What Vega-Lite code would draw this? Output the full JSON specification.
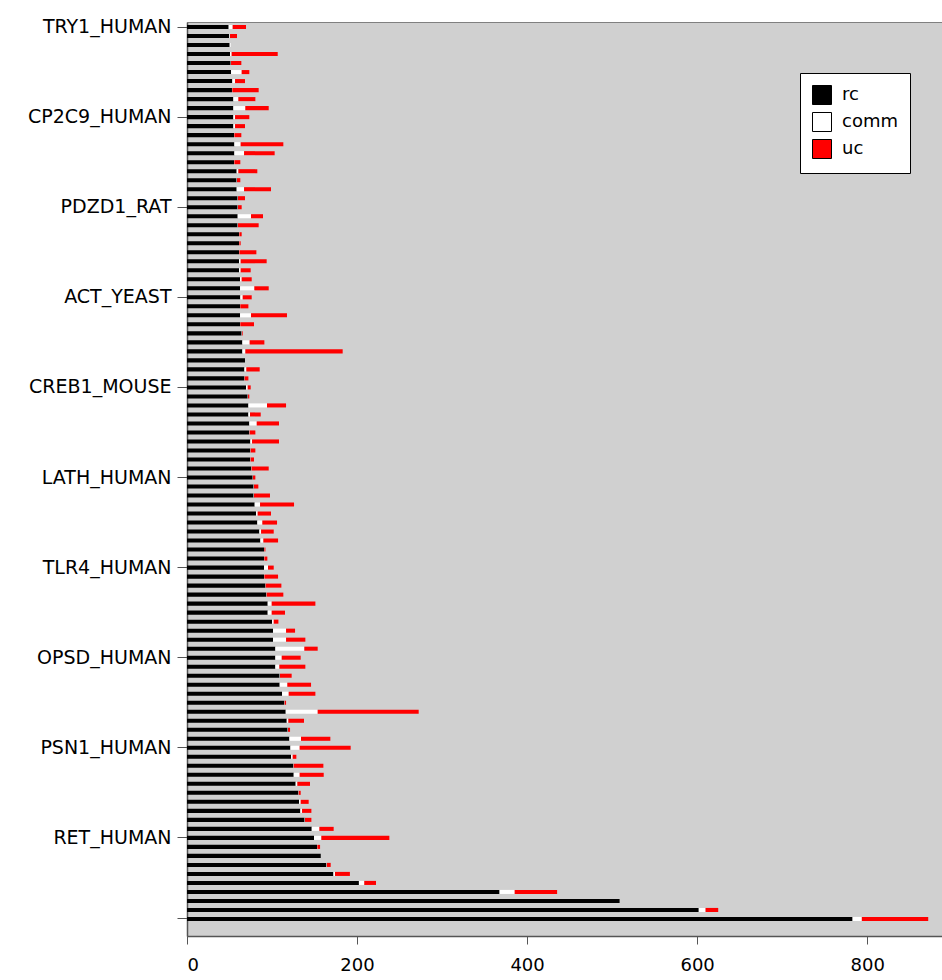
{
  "$schema": "https://vega.github.io/schema/vega-lite/v6.json",
  "width": 755,
  "height": 914,
  "autosize": "none",
  "padding": {"left": 187, "top": 22, "right": 0, "bottom": 44},
  "background": "white",
  "config": {
    "font": "DejaVu Sans",
    "view": {"fill": "#d0d0d0", "stroke": "#808080", "strokeWidth": 1}
  },
  "data": {
    "values": [
      {"protein": "TRY1_HUMAN", "rc": 49.0, "comm": 4.7, "uc": 15.7},
      {"protein": "#1", "rc": 49.8, "comm": 0.8, "uc": 8.2},
      {"protein": "#2", "rc": 50.2, "comm": 1.2, "uc": 0},
      {"protein": "#3", "rc": 50.6, "comm": 1.9, "uc": 54.2},
      {"protein": "#4", "rc": 51.4, "comm": 0.4, "uc": 12.1},
      {"protein": "#5", "rc": 51.8, "comm": 12.5, "uc": 9.0},
      {"protein": "#6", "rc": 53.3, "comm": 3.2, "uc": 11.7},
      {"protein": "#7", "rc": 52.9, "comm": 0.4, "uc": 31.0},
      {"protein": "#8", "rc": 54.5, "comm": 5.9, "uc": 20.0},
      {"protein": "#9", "rc": 54.5, "comm": 14.1, "uc": 27.5},
      {"protein": "CP2C9_HUMAN", "rc": 54.5, "comm": 2.0, "uc": 16.8},
      {"protein": "#11", "rc": 54.5, "comm": 2.0, "uc": 11.7},
      {"protein": "#12", "rc": 55.3, "comm": 0.4, "uc": 8.2},
      {"protein": "#13", "rc": 55.7, "comm": 7.4, "uc": 50.2},
      {"protein": "#14", "rc": 55.7, "comm": 11.4, "uc": 36.0},
      {"protein": "#15", "rc": 55.3, "comm": 0.4, "uc": 7.0},
      {"protein": "#16", "rc": 58.4, "comm": 2.0, "uc": 22.3},
      {"protein": "#17", "rc": 58.4, "comm": 0.4, "uc": 3.9},
      {"protein": "#18", "rc": 58.4, "comm": 8.7, "uc": 31.7},
      {"protein": "#19", "rc": 59.6, "comm": 0.4, "uc": 8.2},
      {"protein": "PDZD1_RAT", "rc": 59.6, "comm": 0.4, "uc": 4.3},
      {"protein": "#21", "rc": 59.6, "comm": 15.7, "uc": 14.1},
      {"protein": "#22", "rc": 59.6, "comm": 0.4, "uc": 24.3},
      {"protein": "#23", "rc": 61.2, "comm": 0.4, "uc": 2.7},
      {"protein": "#24", "rc": 61.2, "comm": 0.4, "uc": 1.5},
      {"protein": "#25", "rc": 61.2, "comm": 0.4, "uc": 20.0},
      {"protein": "#26", "rc": 61.2, "comm": 1.9, "uc": 30.6},
      {"protein": "#27", "rc": 61.2, "comm": 1.9, "uc": 11.8},
      {"protein": "#28", "rc": 62.4, "comm": 1.9, "uc": 11.8},
      {"protein": "#29", "rc": 62.4, "comm": 16.8, "uc": 16.9},
      {"protein": "ACT_YEAST", "rc": 62.7, "comm": 2.8, "uc": 10.6},
      {"protein": "#31", "rc": 62.4, "comm": 0.3, "uc": 9.5},
      {"protein": "#32", "rc": 62.4, "comm": 12.9, "uc": 42.3},
      {"protein": "#33", "rc": 62.4, "comm": 0.3, "uc": 16.1},
      {"protein": "#34", "rc": 64.3, "comm": 0.4, "uc": 0.8},
      {"protein": "#35", "rc": 65.1, "comm": 8.6, "uc": 17.3},
      {"protein": "#36", "rc": 65.1, "comm": 3.5, "uc": 114.5},
      {"protein": "#37", "rc": 68.2, "comm": 0, "uc": 0},
      {"protein": "#38", "rc": 67.5, "comm": 2.3, "uc": 15.7},
      {"protein": "#39", "rc": 67.5, "comm": 0.3, "uc": 4.4},
      {"protein": "CREB1_MOUSE", "rc": 69.4, "comm": 2.0, "uc": 3.5},
      {"protein": "#41", "rc": 71.4, "comm": 0.4, "uc": 1.5},
      {"protein": "#42", "rc": 72.2, "comm": 21.9, "uc": 22.4},
      {"protein": "#43", "rc": 72.2, "comm": 1.9, "uc": 12.6},
      {"protein": "#44", "rc": 73.3, "comm": 8.7, "uc": 26.2},
      {"protein": "#45", "rc": 73.3, "comm": 0.4, "uc": 6.7},
      {"protein": "#46", "rc": 74.5, "comm": 2.0, "uc": 31.7},
      {"protein": "#47", "rc": 74.5, "comm": 0.4, "uc": 5.5},
      {"protein": "#48", "rc": 74.5, "comm": 0.4, "uc": 3.9},
      {"protein": "#49", "rc": 75.7, "comm": 0.4, "uc": 20.0},
      {"protein": "LATH_HUMAN", "rc": 77.3, "comm": 0.3, "uc": 2.8},
      {"protein": "#51", "rc": 78.4, "comm": 0.4, "uc": 5.1},
      {"protein": "#52", "rc": 78.4, "comm": 0.4, "uc": 18.8},
      {"protein": "#53", "rc": 79.6, "comm": 6.3, "uc": 40.0},
      {"protein": "#54", "rc": 81.2, "comm": 1.9, "uc": 15.7},
      {"protein": "#55", "rc": 82.7, "comm": 5.9, "uc": 17.3},
      {"protein": "#56", "rc": 85.1, "comm": 2.0, "uc": 14.9},
      {"protein": "#57", "rc": 86.3, "comm": 3.5, "uc": 17.3},
      {"protein": "#58", "rc": 90.6, "comm": 0.4, "uc": 1.2},
      {"protein": "#59", "rc": 90.6, "comm": 0.4, "uc": 3.5},
      {"protein": "TLR4_HUMAN", "rc": 90.6, "comm": 4.7, "uc": 6.7},
      {"protein": "#61", "rc": 90.6, "comm": 0.4, "uc": 16.1},
      {"protein": "#62", "rc": 92.2, "comm": 0.3, "uc": 18.5},
      {"protein": "#63", "rc": 93.3, "comm": 0.4, "uc": 19.6},
      {"protein": "#64", "rc": 94.9, "comm": 4.7, "uc": 51.4},
      {"protein": "#65", "rc": 94.9, "comm": 4.7, "uc": 15.7},
      {"protein": "#66", "rc": 100.0, "comm": 2.0, "uc": 5.5},
      {"protein": "#67", "rc": 101.2, "comm": 15.3, "uc": 10.6},
      {"protein": "#68", "rc": 101.2, "comm": 15.3, "uc": 22.7},
      {"protein": "#69", "rc": 103.9, "comm": 34.1, "uc": 15.7},
      {"protein": "OPSD_HUMAN", "rc": 103.9, "comm": 7.5, "uc": 22.3},
      {"protein": "#71", "rc": 103.9, "comm": 4.7, "uc": 30.6},
      {"protein": "#72", "rc": 109.0, "comm": 0.4, "uc": 13.7},
      {"protein": "#73", "rc": 109.0, "comm": 9.0, "uc": 27.9},
      {"protein": "#74", "rc": 111.8, "comm": 7.8, "uc": 31.4},
      {"protein": "#75", "rc": 114.5, "comm": 0.4, "uc": 1.6},
      {"protein": "#76", "rc": 116.1, "comm": 37.6, "uc": 118.8},
      {"protein": "#77", "rc": 117.3, "comm": 1.9, "uc": 18.4},
      {"protein": "#78", "rc": 118.4, "comm": 0.4, "uc": 2.4},
      {"protein": "#79", "rc": 120.4, "comm": 13.7, "uc": 34.5},
      {"protein": "PSN1_HUMAN", "rc": 121.6, "comm": 10.9, "uc": 60.0},
      {"protein": "#81", "rc": 122.4, "comm": 1.9, "uc": 4.3},
      {"protein": "#82", "rc": 125.1, "comm": 0.4, "uc": 34.9},
      {"protein": "#83", "rc": 125.5, "comm": 7.0, "uc": 28.3},
      {"protein": "#84", "rc": 127.8, "comm": 2.0, "uc": 14.9},
      {"protein": "#85", "rc": 131.0, "comm": 0.4, "uc": 2.3},
      {"protein": "#86", "rc": 131.8, "comm": 1.9, "uc": 9.4},
      {"protein": "#87", "rc": 133.3, "comm": 2.0, "uc": 11.0},
      {"protein": "#88", "rc": 138.4, "comm": 0.4, "uc": 7.5},
      {"protein": "#89", "rc": 146.7, "comm": 9.0, "uc": 16.8},
      {"protein": "RET_HUMAN", "rc": 149.4, "comm": 8.6, "uc": 80.0},
      {"protein": "#91", "rc": 152.9, "comm": 0.4, "uc": 3.2},
      {"protein": "#92", "rc": 157.3, "comm": 0, "uc": 0},
      {"protein": "#93", "rc": 164.0, "comm": 0.5, "uc": 4.5},
      {"protein": "#94", "rc": 172.2, "comm": 1.9, "uc": 17.5},
      {"protein": "#95", "rc": 202.2, "comm": 6.3, "uc": 13.8},
      {"protein": "#96", "rc": 367.6, "comm": 17.8, "uc": 49.9},
      {"protein": "#97", "rc": 508.8, "comm": 0, "uc": 0},
      {"protein": "#98", "rc": 601.9, "comm": 8.0, "uc": 14.9},
      {"protein": "#99", "rc": 782.8, "comm": 10.9, "uc": 78.1}
    ]
  },
  "transform": [
    {"fold": ["rc", "comm", "uc"], "as": ["series", "value"]},
    {"calculate": "indexof(['rc','comm','uc'], datum.series)", "as": "k"}
  ],
  "mark": {"type": "bar"},
  "encoding": {
    "y": {
      "field": "protein",
      "type": "nominal",
      "sort": null,
      "title": null,
      "scale": {"paddingInner": 0.55, "paddingOuter": 1.337, "align": 0.167, "round": false},
      "axis": {
        "values": ["TRY1_HUMAN", "CP2C9_HUMAN", "PDZD1_RAT", "ACT_YEAST", "CREB1_MOUSE", "LATH_HUMAN", "TLR4_HUMAN", "OPSD_HUMAN", "PSN1_HUMAN", "RET_HUMAN", "#99"],
        "labelExpr": "indexof(datum.label, '#') == 0 ? '' : datum.label",
        "labelFont": "DejaVu Sans",
        "labelFontSize": 19,
        "labelColor": "black",
        "tickSize": 10,
        "labelPadding": 6,
        "tickColor": "#555555",
        "domainColor": "#555555",
        "domainWidth": 1.5,
        "grid": false
      }
    },
    "x": {
      "field": "value",
      "type": "quantitative",
      "stack": "zero",
      "title": null,
      "scale": {"domain": [0, 888], "nice": false, "zero": true},
      "axis": {
        "values": [0, 200, 400, 600, 800],
        "labelFont": "DejaVu Sans",
        "labelFontSize": 18,
        "labelColor": "black",
        "tickSize": 8,
        "labelPadding": 12,
        "tickColor": "#555555",
        "domainColor": "#555555",
        "domainWidth": 1.5,
        "grid": false
      }
    },
    "color": {
      "field": "series",
      "type": "nominal",
      "scale": {"domain": ["rc", "comm", "uc"], "range": ["#000000", "#ffffff", "#ff0000"]},
      "legend": {
        "orient": "none",
        "legendX": 613,
        "legendY": 51,
        "title": null,
        "direction": "vertical",
        "symbolType": "square",
        "symbolSize": 361,
        "symbolStrokeColor": "black",
        "symbolStrokeWidth": 1,
        "symbolOpacity": 1,
        "labelFont": "DejaVu Sans",
        "labelFontSize": 18,
        "labelColor": "black",
        "labelOffset": 10,
        "rowPadding": 3,
        "padding": 12,
        "fillColor": "white",
        "strokeColor": "black"
      }
    },
    "order": {"field": "k", "type": "quantitative"}
  }
}
